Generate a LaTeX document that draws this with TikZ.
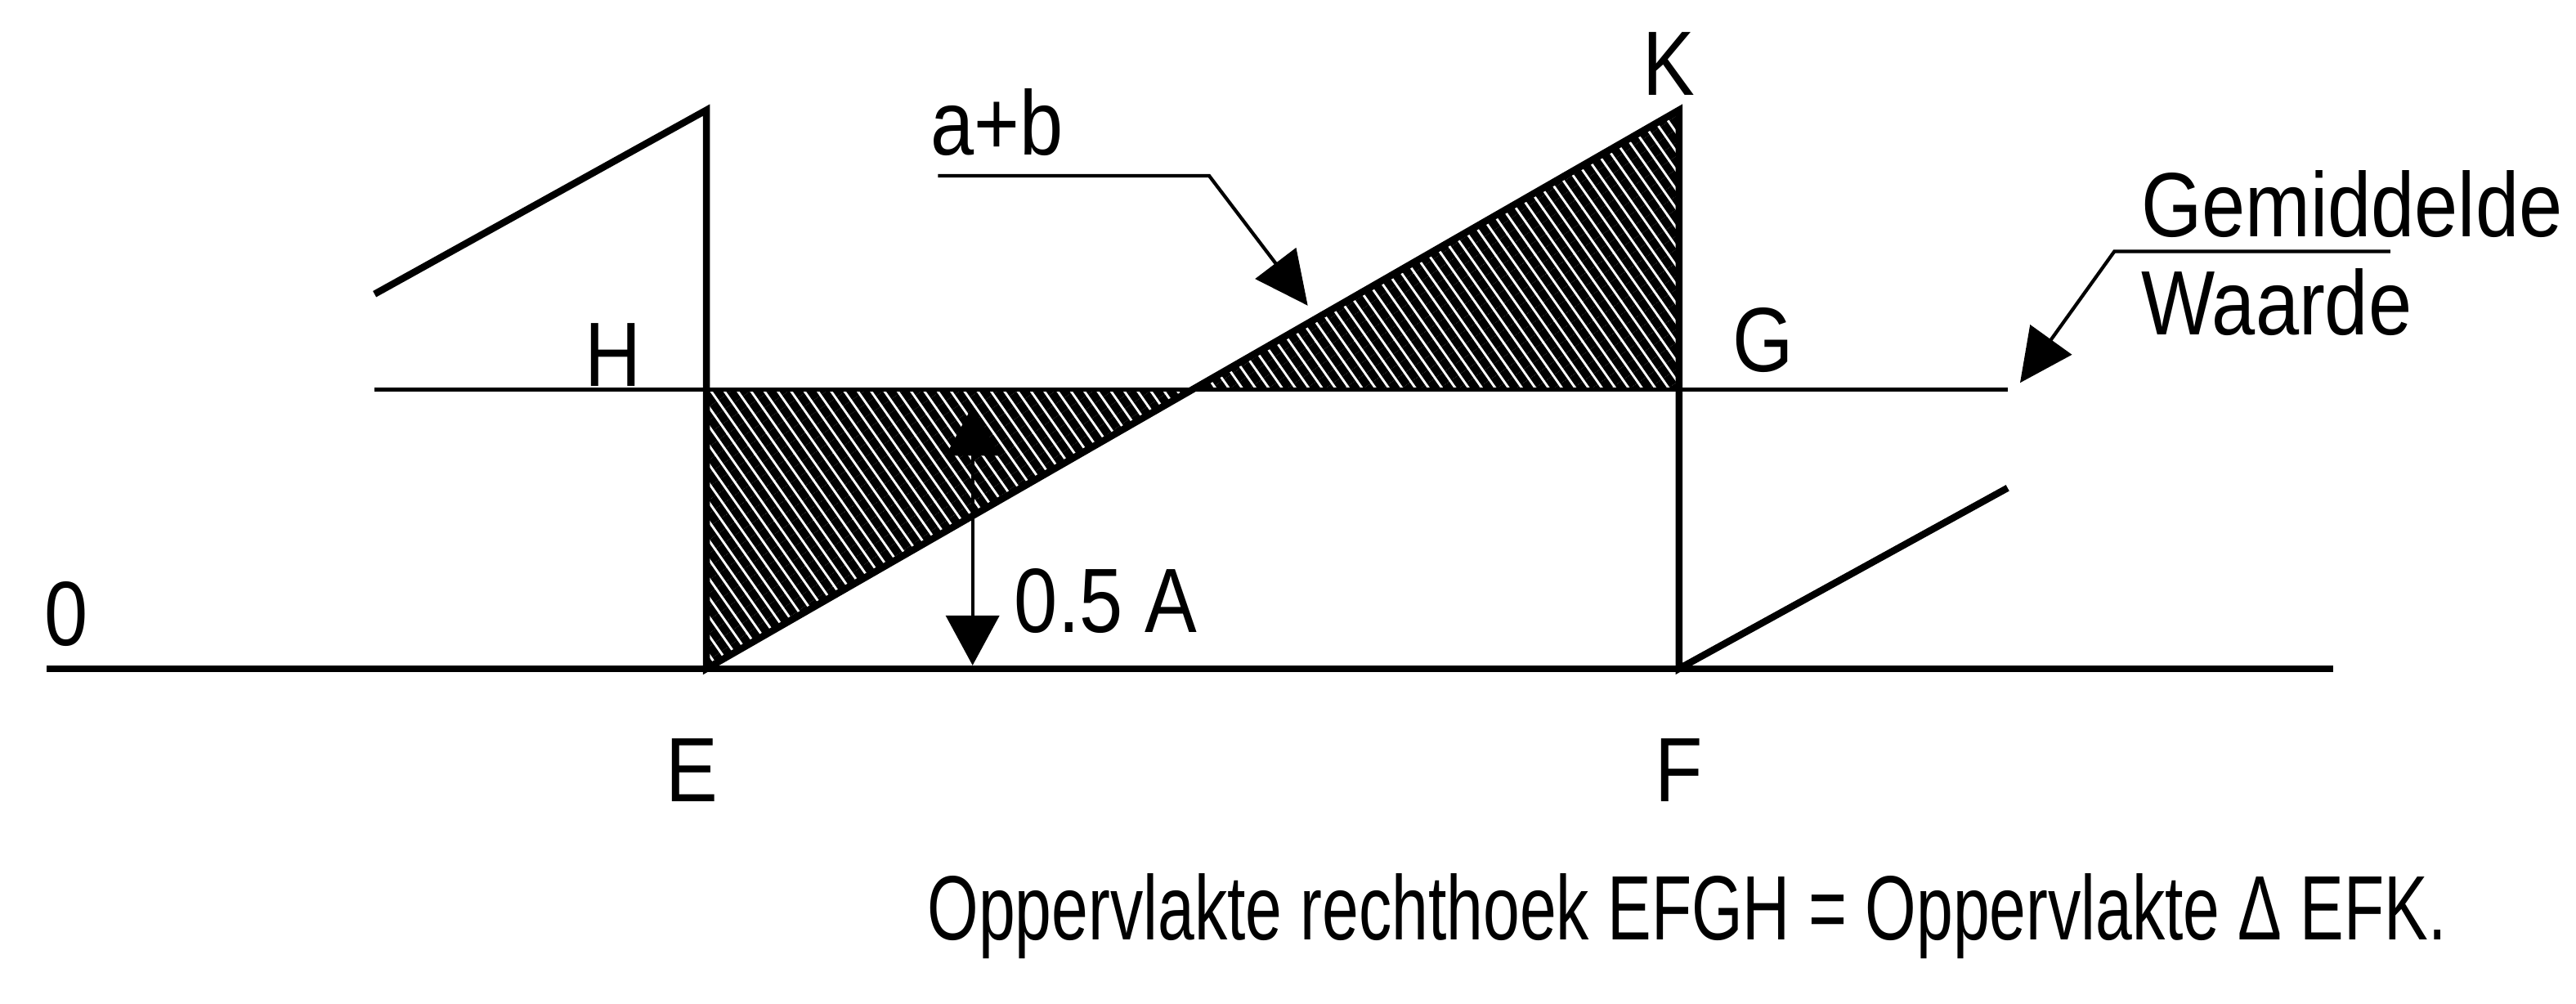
\documentclass[tikz,border=0pt]{standalone}
\usepackage{fontspec}
\setmainfont{Liberation Sans}[FakeStretch=0.855]
\newfontfamily\captfont{Liberation Sans}[FakeStretch=0.72]
\usetikzlibrary{arrows.meta, patterns.meta, positioning}

\tikzset{
  lbl/.style={font=\fontsize{31.8}{38}\selectfont, inner sep=0pt, anchor=base},
  heavy/.style={line width=2.4pt},
  midline/.style={line width=1.5pt},
  hatch/.style={pattern={Lines[angle=-55,distance=3.8pt,line width=2.9pt]}},
  leader/.style={line width=1.2pt, -{Triangle[length=6.5mm,width=6.2mm]}},
  dimarrow/.style={line width=1.2pt, {Triangle[length=6.1mm,width=6.5mm]}-{Triangle[length=6.1mm,width=6.5mm]}},
}

\begin{document}
\begin{tikzpicture}[x=0.20096cm, y=-0.20096cm]
    \useasboundingbox (0,0) rectangle (156.8,61.06);

    % points of the sawtooth
    \coordinate (E) at (43,40.7);
    \coordinate (F) at (102.2,40.7);
    \coordinate (K) at (102.2,6.7);
    \coordinate (Etop) at (43,6.7);
    \coordinate (H) at (43,23.7);
    \coordinate (G) at (102.2,23.7);
    \coordinate (M) at (72.6,23.7);

    % hatched areas
    \path[hatch] (H) -- (E) -- (M) -- cycle;
    \path[hatch] (M) -- (K) -- (G) -- cycle;

    % axis and mean value line
    \coordinate (x0) at (2.85,40.7);
    \coordinate (x1) at (142,40.7);
    \coordinate (m0) at (22.8,23.7);
    \coordinate (m1) at (122.2,23.7);
    \draw[heavy] (x0) -- (x1);
    \draw[midline] (m0) -- (m1);

    % sawtooth
    \coordinate (s0) at (22.8,17.9);
    \coordinate (s1) at (122.2,29.7);
    \draw[heavy] (s0) -- (Etop) -- (E) -- (K) -- (F) -- (s1);

    % 0.5 A
    \coordinate (d0) at (59.2,24.7);
    \coordinate (d1) at (59.2,40.5);
    \draw[dimarrow] (d0) -- (d1);

    % labels
    \node[lbl] (zero) at (4.03,39.3) {0};
    \node[lbl] (lH) at (37.3,23.5) {H};
    \node[lbl] (lG) at (107.3,22.6) {G};
    \node[lbl] (lK) at (101.6,5.8) {K};
    \node[lbl] (lE) at (42.1,48.8) {E};
    \node[lbl] (lF) at (102.2,48.8) {F};
    \node[lbl] (half) at (67.3,38.5) {0.5 A};
    \node[lbl] (ab) at (60.7,9.45) {a+b};
    \node[lbl, anchor=base west] (gem) at (130.3,14.4) {Gemiddelde};
    \node[lbl, anchor=base west] (waarde) at (130.3,20.4) {Waarde};
    \node[lbl, font={\captfont\fontsize{31.8}{38}\selectfont}] (note) at (102.7,57.2)
        {Oppervlakte rechthoek EFGH = Oppervlakte Δ EFK.};

    % leaders
    \coordinate (ab0) at (57.1,10.7);
    \coordinate (ab1) at (73.6,10.7);
    \coordinate (abtip) at (79.6,18.6);
    \draw[leader] (ab0) -- (ab1) -- (abtip);
    \coordinate (gm0) at (145.5,15.3);
    \coordinate (gm1) at (128.7,15.3);
    \coordinate (gmtip) at (122.96,23.3);
    \draw[leader] (gm0) -- (gm1) -- (gmtip);
\end{tikzpicture}
\end{document}
